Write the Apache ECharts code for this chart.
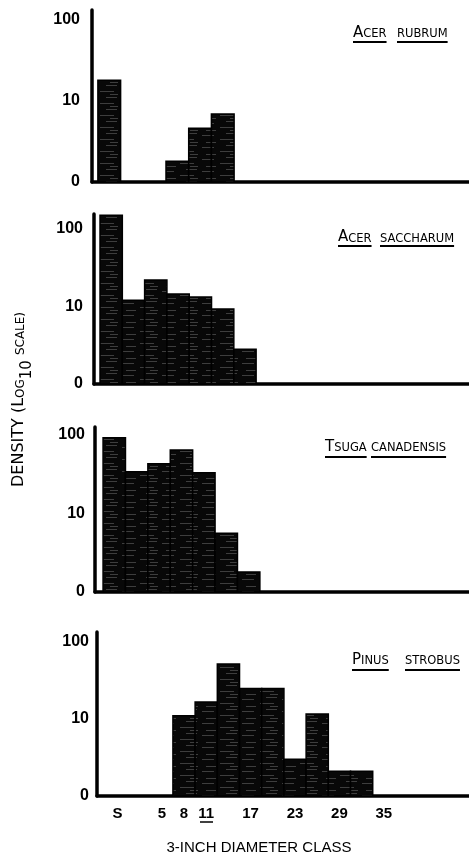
<!DOCTYPE html>
<html><head><meta charset="utf-8">
<script src="https://cdn.jsdelivr.net/npm/echarts@6/dist/echarts.min.js"></script>
<style>html,body{margin:0;padding:0;background:#fff}#c{width:469px;height:864px}</style>
</head><body><div id="c"></div>
<script>
// ---------- data ----------
const classes = ['S','2','5','8','11','14','17','20','23','26','29','32','35','38','41','44','47'];
const shownClasses = ['S','5','8','11','17','23','29','35'];
const yTickValues = [1, 10, 100];
const yTickLabels = ['0', '10', '100'];
const acerRubrum      = [18, null, null, 1.8, 4.6, 6.9];
const acerSaccharum   = [150, 12, 22, 14.5, 13.3, 9.3, 2.8];
const tsugaCanadensis = [92, 34, 43, 64, 33, 5.6, 1.8];
const pinusStrobus    = [null, null, null, 11, 16.6, 52, 25, 25, 3.0, 11.6, 2.1, 2.1];
const titleWords = [
  [['A','CER'], ['','RUBRUM']],
  [['A','CER'], ['','SACCHARUM']],
  [['T','SUGA'], ['','CANADENSIS']],
  [['P','INUS'], ['','STROBUS']]
];
const seriesList = [acerRubrum, acerSaccharum, tsugaCanadensis, pinusStrobus];
const yTitleParts = ['DENSITY (L', 'OG', '10', 'SCALE)'];
const xTitle = '3-INCH DIAMETER CLASS';

// ---------- layout ----------
const layout = [
  {axisX:92, gap:0.26, unit:22.7, top:10,  base:182, max:133, lm:12, wordX:[353,397], tBase:37.5, uY:42},
  {axisX:94, gap:0.27, unit:22.3, top:214, base:384, max:156, lm:11, wordX:[338,380], tBase:242, uY:246},
  {axisX:95, gap:0.36, unit:22.4, top:427, base:592, max:126, lm:10, wordX:[325,371], tBase:451.5, uY:457},
  {axisX:97, gap:0.42, unit:22.2, top:632, base:796, max:135, lm:8,  wordX:[352,405], tBase:664.5, uY:670}
];
const XMAX = 17;
const FONT = '"Liberation Sans", Arial, sans-serif';
const TFONT = '"DejaVu Sans", sans-serif';

const mctx = document.createElement('canvas').getContext('2d');
function measure(t, size, fam){ mctx.font = size + 'px ' + fam; return mctx.measureText(t).width; }

// texture for the screened bar fill
const pat = document.createElement('canvas');
pat.width = 40; pat.height = 12;
(function(){
  const c = pat.getContext('2d');
  c.fillStyle = '#080808'; c.fillRect(0,0,40,12);
  c.strokeStyle = 'rgba(255,255,255,0.22)'; c.lineWidth = 1;
  [[2,3.5,14],[20,7.5,34],[6,10.5,16],[26,1.5,37],[30,10.5,38]].forEach(function(s){
    c.beginPath(); c.moveTo(s[0], s[1]); c.lineTo(s[2], s[1]); c.stroke();
  });
})();

const chart = echarts.init(document.getElementById('c'), null, {renderer:'canvas'});
const grids = [], xAxes = [], yAxes = [], series = [], graphics = [];

layout.forEach(function(L, k){
  const isLast = k === layout.length - 1;
  grids.push({left:L.axisX, top:L.top, height:L.base - L.top, width:(XMAX + L.gap) * L.unit,
              containLabel:false, outerBoundsMode:'none'});
  xAxes.push({
    type:'value', gridIndex:k, min:-L.gap, max:XMAX,
    axisLine:{show:true, onZero:false, lineStyle:{color:'#000', width:3.5}},
    axisTick:{show:false}, splitLine:{show:false},
    axisLabel:{
      show:isLast, margin:10, color:'#000', fontFamily:FONT, fontSize:15, fontWeight:'bold',
      customValues: shownClasses.map(function(c){ return classes.indexOf(c) + 0.5; }),
      formatter:function(v){
        const i = Math.floor(v);
        return Math.abs(v - i - 0.5) < 1e-6 ? classes[i] : '';
      }
    }
  });
  yAxes.push({
    type:'log', logBase:10, gridIndex:k, min:1, max:L.max,
    axisLine:{show:true, onZero:false, lineStyle:{color:'#000', width:3.5}},
    axisTick:{show:false}, splitLine:{show:false},
    axisLabel:{
      show:true, margin:L.lm, color:'#000', fontFamily:FONT, fontSize:16, fontWeight:'bold',
      customValues: yTickValues,
      formatter:function(v){
        const i = yTickValues.indexOf(Math.round(v));
        return i >= 0 && Math.abs(v - yTickValues[i]) < 1e-6 ? yTickLabels[i] : '';
      }
    }
  });
  const data = [];
  seriesList[k].forEach(function(v, i){ if (v != null) data.push([i, v]); });
  series.push({
    type:'custom', xAxisIndex:k, yAxisIndex:k, data:data, clip:false,
    renderItem:function(params, api){
      const i = api.value(0), v = api.value(1);
      const p1 = api.coord([i, v]);
      const p0 = api.coord([i + 1, 1]);
      return {type:'rect',
        shape:{x:p1[0], y:p1[1], width:p0[0] - p1[0], height:p0[1] - p1[1]},
        style:{fill:{image:pat, repeat:'repeat'}, stroke:'#000', lineWidth:1.5}};
    }
  });

  // species title (small caps) with underlines
  titleWords[k].forEach(function(w, j){
    const x0 = L.wordX[j];
    const wCap = w[0] ? measure(w[0], 15, TFONT) : 0;
    const wSc = measure(w[1], 11.5, TFONT);
    graphics.push({
      type:'text', x:x0, y:L.tBase + 3, silent:true,
      style:{
        text:(w[0] ? '{c|' + w[0] + '}' : '') + '{s|' + w[1] + '}',
        align:'left', verticalAlign:'bottom',
        rich:{
          c:{fontFamily:TFONT, fontSize:15, fill:'#000', verticalAlign:'bottom', lineHeight:16},
          s:{fontFamily:TFONT, fontSize:11.5, fill:'#000', verticalAlign:'bottom', lineHeight:16}
        }
      }
    });
    graphics.push({type:'line', silent:true,
      shape:{x1:x0, y1:L.uY, x2:x0 + wCap + wSc, y2:L.uY},
      style:{stroke:'#000', lineWidth:2}});
  });
});

// underline under the "11" class label (as typed in the source)
graphics.push({type:'line', silent:true, shape:{x1:200, y1:822, x2:213, y2:822},
  style:{stroke:'#000', lineWidth:1.5}});

// y-axis title (rotated), built from parts
(function(){
  const x = 19;
  let y = 487;
  const sizes = [16, 12, 15, 12];
  const xs = [x, x + 1.5, x + 8, x + 1.5];
  const gaps = [0, 0, 0, 5];
  yTitleParts.forEach(function(t, i){
    y -= gaps[i];
    const w = measure(t, sizes[i], TFONT);
    graphics.push({type:'text', x:xs[i], y:y, rotation:Math.PI/2, silent:true,
      style:{text:t, fontFamily:TFONT, fontSize:sizes[i], fill:'#000', align:'left', verticalAlign:'middle'}});
    y -= w;
  });
})();

// x-axis title
graphics.push({type:'text', x:259, y:848, silent:true,
  style:{text:xTitle, fontFamily:FONT, fontSize:15, fill:'#000', align:'center', verticalAlign:'middle'}});

chart.setOption({
  animation:false,
  backgroundColor:'#fff',
  grid:grids, xAxis:xAxes, yAxis:yAxes, series:series, graphic:graphics
});
</script></body></html>
